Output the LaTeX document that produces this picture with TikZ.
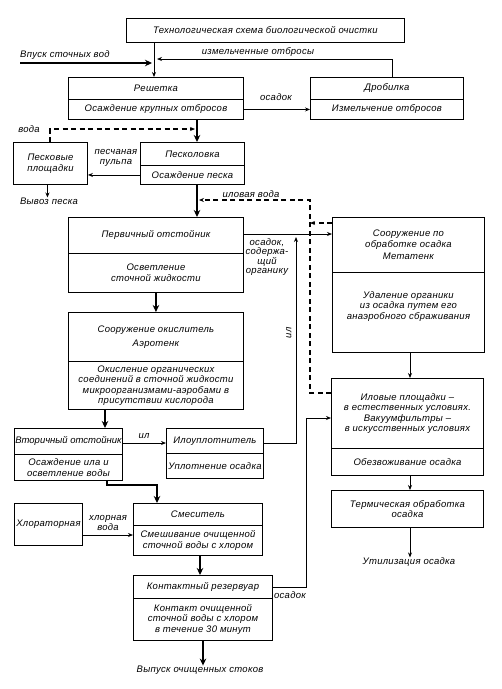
\documentclass[tikz,border=0pt]{standalone}
\usepackage{fontspec}
\setmainfont[LetterSpace=3]{Liberation Sans}
\newfontfamily\nospfont{Liberation Sans}
\usetikzlibrary{arrows.meta,calc}
\begin{document}
\begin{tikzpicture}[x=1pt,y=-1pt,
  font=\fontsize{9.5}{10.5}\selectfont\itshape,
  box/.style={draw, line width=0.9pt, inner sep=1pt, align=center, anchor=north west},
  ln/.style={line width=0.9pt},
  arr/.style={line width=0.9pt, -{Stealth[length=5pt,width=4pt]}},
  tarr/.style={line width=2.4pt, -{Stealth[length=7pt,width=6.5pt]}},
  tln/.style={line width=2.4pt},
  dsh/.style={line width=1.2pt, dash pattern=on 5pt off 3.5pt, -{Stealth[length=5pt,width=4pt]}},
  lbl/.style={align=center, inner sep=0pt}]
\useasboundingbox (0,0) rectangle (502,689);
\newcommand\bx[6]{\node[box,minimum width=#4pt,minimum height=#5pt] (#1) at (#2,#3) {#6};}
% boxes
\bx{title}{126}{18}{278}{24}{Технологическая схема биологической очистки}
\bx{resh1}{68}{77}{175}{22}{Решетка}
\bx{resh2}{68}{99}{175}{20}{Осаждение крупных отбросов}
\bx{drob1}{310}{77}{153}{22}{Дробилка}
\bx{drob2}{310}{99}{153}{20}{Измельчение отбросов}
\bx{peskp}{13}{142}{74}{42}{Песковые\\площадки}
\bx{pkl1}{140}{142}{104}{23}{Песколовка}
\bx{pkl2}{140}{165}{104}{19}{Осаждение песка}
\bx{perv1}{68}{217}{175}{36}{Первичный отстойник}
\bx{perv2}{68}{253}{175}{39}{Осветление\\сточной жидкости}
\bx{meta1}{332}{217}{152}{55}{Сооружение по\\обработке осадка\\[2pt]Метатенк}
\bx{meta2}{332}{272}{152}{80}{Удаление органики\\из осадка путем его\\анаэробного сбраживания\\[4pt]}
\bx{aero1}{68}{312}{175}{49}{Сооружение окислитель\\[4pt]Аэротенк}
\bx{aero2}{68}{361}{175}{48}{Окисление органических\\соединений в сточной жидкости\\микроорганизмами-аэробами в\\присутствии кислорода}
\node[box,minimum width=108pt,minimum height=26pt,inner sep=0pt,font=\nospfont\fontsize{9.5}{10.5}\selectfont\itshape] (vtor1) at (14,428) {Вторичный отстойник};
\bx{vtor2}{14}{454}{108}{26}{Осаждение ила и\\осветление воды}
\bx{ilou1}{166}{428}{97}{25}{Илоуплотнитель}
\bx{ilou2}{166}{453}{97}{25}{Уплотнение осадка}
\bx{ilov1}{331}{378}{152}{70}{Иловые площадки --\\в естественных условиях.\\Вакуумфильтры --\\в искусственных условиях}
\bx{ilov2}{331}{448}{152}{27}{Обезвоживание осадка}
\bx{term}{331}{490}{152}{37}{Термическая обработка\\осадка}
\bx{smes1}{133}{503}{129}{22}{Смеситель}
\bx{smes2}{133}{525}{129}{30}{Смешивание очищенной\\сточной воды с хлором}
\bx{hlor}{14}{503}{68}{42}{Хлораторная}
\bx{kont1}{133}{575}{139}{23}{Контактный резервуар}
\bx{kont2}{133}{598}{139}{42}{Контакт очищенной\\сточной воды с хлором\\в течение 30 минут}
% free labels
\node[lbl, anchor=west] (inlbl) at (20,55) {Впуск сточных вод};
\node[lbl] (crlbl) at (258,52) {измельченные отбросы};
\node[lbl] (osd1) at (276,97) {осадок};
\node[lbl] (voda) at (29,129) {вода};
\node[lbl] (pulpa) at (116,158) {песчаная\\пульпа};
\node[lbl] (vyvoz) at (49,201) {Вывоз песка};
\node[lbl] (ilvoda) at (251,194) {иловая вода};
\node[lbl, font=\fontsize{9.5}{9.5}\selectfont\itshape] (osorg) at (267,257) {осадок,\\содержа-\\щий\\органику};
\node[lbl, rotate=90] (ilv) at (289,333) {ил};
\node[lbl] (ilh) at (144,436) {ил};
\node[lbl] (hvoda) at (108,523) {хлорная\\вода};
\node[lbl] (osd2) at (290,595) {осадок};
\node[lbl] (util) at (409,562) {Утилизация осадка};
\node[lbl] (vypusk) at (200,670) {Выпуск очищенных стоков};
% helper coordinates
\coordinate (xa) at (154,0);
\coordinate (xb) at (392,0);
\coordinate (crj) at (157,59);
\coordinate (inlet) at (20,63);
\coordinate (inend) at (152,63);
\coordinate (mainx) at (197,0);
\coordinate (vx) at (50,0);
\coordinate (vend) at (195,129);
\coordinate (ya) at (0,393);
\coordinate (dcorner) at (310,200);
\coordinate (dend) at (199,200);
\coordinate (yb) at (0,223);
\coordinate (yc) at (0,234);
\coordinate (yd) at (0,443);
\coordinate (ilup) at (296,237);
\coordinate (x105) at (105,0);
\coordinate (x107) at (107,0);
\coordinate (bend) at (157,485);
\coordinate (ye) at (0,535);
\coordinate (x200) at (200,0);
\coordinate (x203) at (203,0);
\coordinate (oc) at (306,418);
\coordinate (x410) at (410,0);
% connectors
\draw[arr] (title.south -| xa) -- (resh1.north -| xa);
\draw[tarr] (inlet) -- (inend);
\draw[arr] (drob1.north -| xb) |- (crj);
\draw[arr] (resh2.east) -- (resh2.east -| drob2.west);
\draw[tarr] (resh2.south -| mainx) -- (pkl1.north -| mainx);
\draw[dsh] (peskp.north -| vx) |- (vend);
\draw[arr] (pkl2.west) -- (pkl2.west -| peskp.east);
\draw[arr] ([xshift=-3pt]peskp.south) -- ([xshift=-3pt]peskp.south |- vyvoz.north);
\draw[tarr] (pkl2.south -| mainx) -- (perv1.north -| mainx);
\draw[dsh] (ilov1.west |- ya) -| (dcorner) -- (dend);
\draw[dsh] (meta1.west |- yb) -- (dcorner |- yb);
\draw[arr] (perv1.east |- yc) -- (meta1.west |- yc);
\draw[arr] (ilou1.east |- yd) -| (ilup);
\draw[arr] (vtor1.east |- yd) -- (ilou1.west |- yd);
\draw[tarr] (perv2.south) -- (aero1.north);
\draw[tarr] (aero2.south -| x105) -- (vtor1.north -| x105);
\draw[tarr] (vtor2.south -| x107) |- (bend) -- (smes1.north -| bend);
\draw[arr] (hlor.east |- ye) -- (smes2.west |- ye);
\draw[tarr] (smes2.south -| x200) -- (kont1.north -| x200);
\draw[tarr] (kont2.south -| x203) -- (vypusk.north -| x203);
\draw[arr] (kont1.east) -| (oc) -- (ilov1.west |- oc);
\draw[arr] (meta2.south -| x410) -- (ilov1.north -| x410);
\draw[arr] (ilov2.south -| x410) -- (term.north -| x410);
\draw[arr] (term.south -| x410) -- (util.north -| x410);
\end{tikzpicture}
\end{document}
